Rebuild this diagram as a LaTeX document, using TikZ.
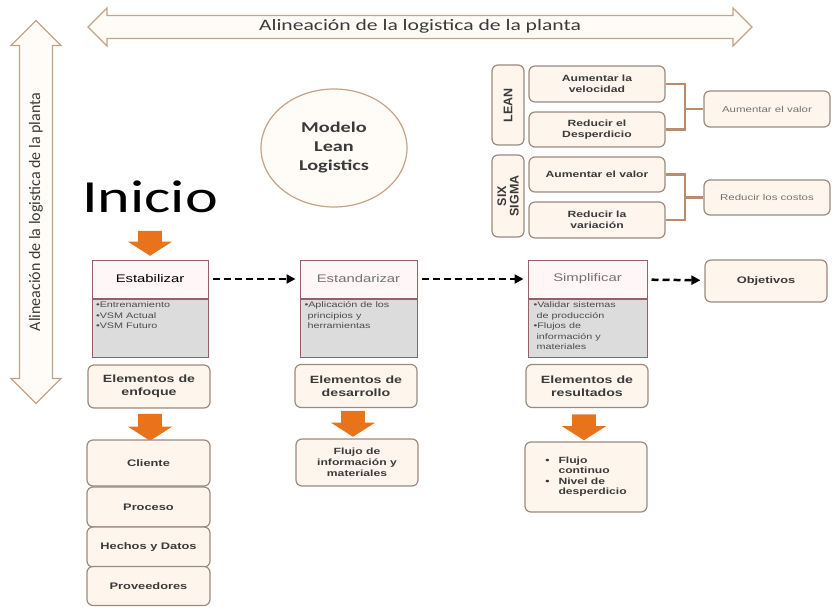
\documentclass[tikz,border=0pt]{standalone}
\usepackage{fontspec}
\setmainfont{Liberation Sans}
\newfontfamily\calfont[FakeStretch=1.35]{Carlito}
\newfontfamily\calfontup{Carlito}
\newfontfamily\boxfont[FakeStretch=1.35]{Liberation Sans}
\usetikzlibrary{arrows.meta, positioning, shapes.arrows, shapes.geometric}

\definecolor{boxline}{HTML}{9C8A7E}
\definecolor{boxfill}{HTML}{FEF6EC}
\definecolor{arrline}{HTML}{C4A486}
\definecolor{arrfill}{HTML}{FFFCF8}
\definecolor{blockorange}{HTML}{E8731A}
\definecolor{stageline}{HTML}{96606A}
\definecolor{stagehead}{HTML}{FFF6F8}
\definecolor{stagebody}{HTML}{DCDCDC}
\definecolor{bracketcol}{HTML}{B88C6C}
\definecolor{textgray}{HTML}{3A3A3A}

\newcommand{\stagelist}[1]{\parbox[c][52pt][t]{108pt}{\raggedright #1}}

\begin{document}
\begin{tikzpicture}[x=1pt, y=-1pt,
  rbox/.style={draw=boxline, line width=1.2pt, fill=boxfill, rounded corners=6pt,
    align=center, inner sep=2pt, text=textgray},
  headbox/.style={draw=stageline, line width=1pt, fill=stagehead, minimum height=38pt,
    font={\boxfont\fontsize{11}{13}\selectfont}},
  bodybox/.style={draw=stageline, line width=1pt, fill=stagebody, anchor=north,
    inner sep=3pt, text=black!70, font={\boxfont\fontsize{8}{10.5}\selectfont}},
  bigarrow/.style={double arrow, draw=arrline, line width=1.2pt, fill=arrfill,
    text=textgray, inner xsep=2pt},
  blockarrow/.style={single arrow, fill=blockorange, inner xsep=2pt, inner ysep=8pt,
    minimum width=44pt, single arrow tip angle=115, rotate=-90},
  dashline/.style={line width=2.5pt, dash pattern=on 7pt off 4pt,
    -{Triangle[length=9pt,width=9pt]}, shorten <=4pt, shorten >=4pt},
  bracket/.style={draw=bracketcol, line width=2.5pt}
]
\useasboundingbox (0,0) rectangle (833,607);

% flechas de alineacion
\node[bigarrow, minimum height=664pt, minimum width=38pt, text height=11pt, text depth=4pt,
  inner ysep=3pt, font={\calfont\fontsize{16}{18}\selectfont}] (alinh) at (420,27)
  {Alineación de la logistica de la planta};
\node[bigarrow, rotate=90, minimum height=383pt, minimum width=50pt, text height=12pt,
  text depth=4pt, inner ysep=5pt, font={\calfontup\fontsize{16}{18}\selectfont}] (alinv) at (36,212)
  {Alineación de la logistica de la planta};

% modelo
\node[ellipse, draw=arrline, line width=1.2pt, fill=arrfill, minimum width=146pt,
  minimum height=118pt, align=center, text=textgray,
  font={\calfont\bfseries\fontsize{15}{19}\selectfont}] (modelo) at (334,148)
  {Modelo\\Lean\\Logistics};

\node[font={\calfont\fontsize{46}{50}\selectfont}] (inicio) at (150,197) {Inicio};
\node[blockarrow, minimum height=25pt] (ar0) at (150,239.5) {};

% etapas
\node[headbox, minimum width=116pt] (estab) at (150,279) {Estabilizar};
\node[bodybox, minimum width=116pt, below=0pt of estab] (estabb)
  {\stagelist{•Entrenamiento\\•VSM Actual\\•VSM Futuro}};
\node[headbox, minimum width=117pt, text=black!55] (estand) at (358.5,279) {Estandarizar};
\node[bodybox, minimum width=117pt, below=0pt of estand] (estandb)
  {\stagelist{•Aplicación de los\\\ principios y\\\ herramientas}};
\node[headbox, minimum width=119pt, text=black!55] (simpl) at (587.5,279) {Simplificar};
\node[bodybox, minimum width=119pt, below=0pt of simpl] (simplb)
  {\stagelist{•Validar sistemas\\\ de producción\\•Flujos de\\\ información y\\\ materiales}};
\node[rbox, minimum width=122pt, minimum height=42pt,
  font={\boxfont\bfseries\fontsize{9.5}{12}\selectfont}] (obj) at (766,281) {Objetivos};

\draw[dashline] (estab) -- (estand);
\draw[dashline] (estand) -- (simpl);
\draw[dashline] (simpl) -- (obj);

% elementos
\tikzset{elem/.style={rbox, minimum width=122pt, minimum height=43pt,
  font={\boxfont\bfseries\fontsize{10.5}{13}\selectfont}}}
\node[elem] (enfoque) at (149,386.5) {Elementos de\\enfoque};
\node[elem] (desarrollo) at (356,386) {Elementos de\\desarrollo};
\node[elem] (resultados) at (587,386) {Elementos de\\resultados};

\node[blockarrow, minimum height=27pt] (ar1) at (150,423.5) {};
\node[blockarrow, minimum height=26pt] (ar2) at (353,420) {};
\node[blockarrow, minimum height=26pt] (ar3) at (584,423.5) {};

\tikzset{item/.style={rbox, minimum width=123pt,
  font={\boxfont\bfseries\fontsize{9.5}{12}\selectfont}}}
\node[item, minimum height=46pt] (cliente) at (148.5,463) {Cliente};
\node[item, minimum height=40pt] (proceso) at (148.5,507) {Proceso};
\node[item, minimum height=40pt] (hechos) at (148.5,547) {Hechos y Datos};
\node[item, minimum height=39pt] (prov) at (148.5,586) {Proveedores};

\node[rbox, minimum width=122pt, minimum height=47pt,
  font={\boxfont\bfseries\fontsize{9}{11}\selectfont}] (flujo) at (357,462.5)
  {Flujo de\\información y\\materiales};
\node[rbox, minimum width=122pt, minimum height=70pt, align=left,
  font={\boxfont\bfseries\fontsize{9}{10.5}\selectfont}] (logros) at (586,477)
  {\begin{tabular}{@{}l@{\hspace{9pt}}l@{}}
   • & Flujo\\ & continuo\\ • & Nivel de\\ & desperdicio
   \end{tabular}};

% lean / six sigma
\node[rbox, rotate=90, minimum width=80pt, minimum height=32pt,
  font={\bfseries\fontsize{12.5}{13}\selectfont}] (lean) at (508,105) {LEAN};
\node[rbox, rotate=90, minimum width=82pt, minimum height=32pt,
  font={\bfseries\fontsize{12.5}{12.5}\selectfont}] (sigma) at (508,196) {SIX\\SIGMA};

\tikzset{goal/.style={rbox, minimum width=136pt, minimum height=36pt,
  font={\boxfont\bfseries\fontsize{9}{11}\selectfont}}}
\node[goal] (vel) at (597,84) {Aumentar la\\velocidad};
\node[goal, minimum height=35pt] (desp) at (597,129.5) {Reducir el\\Desperdicio};
\node[goal, minimum height=35pt] (valor) at (597,174.5) {Aumentar el valor};
\node[goal] (var) at (597,220) {Reducir la\\variación};

\tikzset{result/.style={rbox, minimum width=126pt, minimum height=36pt, text=black!55,
  font={\boxfont\fontsize{8.5}{10}\selectfont}}}
\node[result] (valor2) at (767,109) {Aumentar el valor};
\node[result, minimum height=35pt] (costos) at (767,197.5) {Reducir los costos};

\coordinate (jl) at (685,109);
\coordinate (js) at (685,197.5);
\draw[bracket] (vel.east) -| (jl) |- (desp.east);
\draw[bracket] (jl) -- (valor2.west);
\draw[bracket] (valor.east) -| (js) |- (var.east);
\draw[bracket] (js) -- (costos.west);
\end{tikzpicture}
\end{document}
